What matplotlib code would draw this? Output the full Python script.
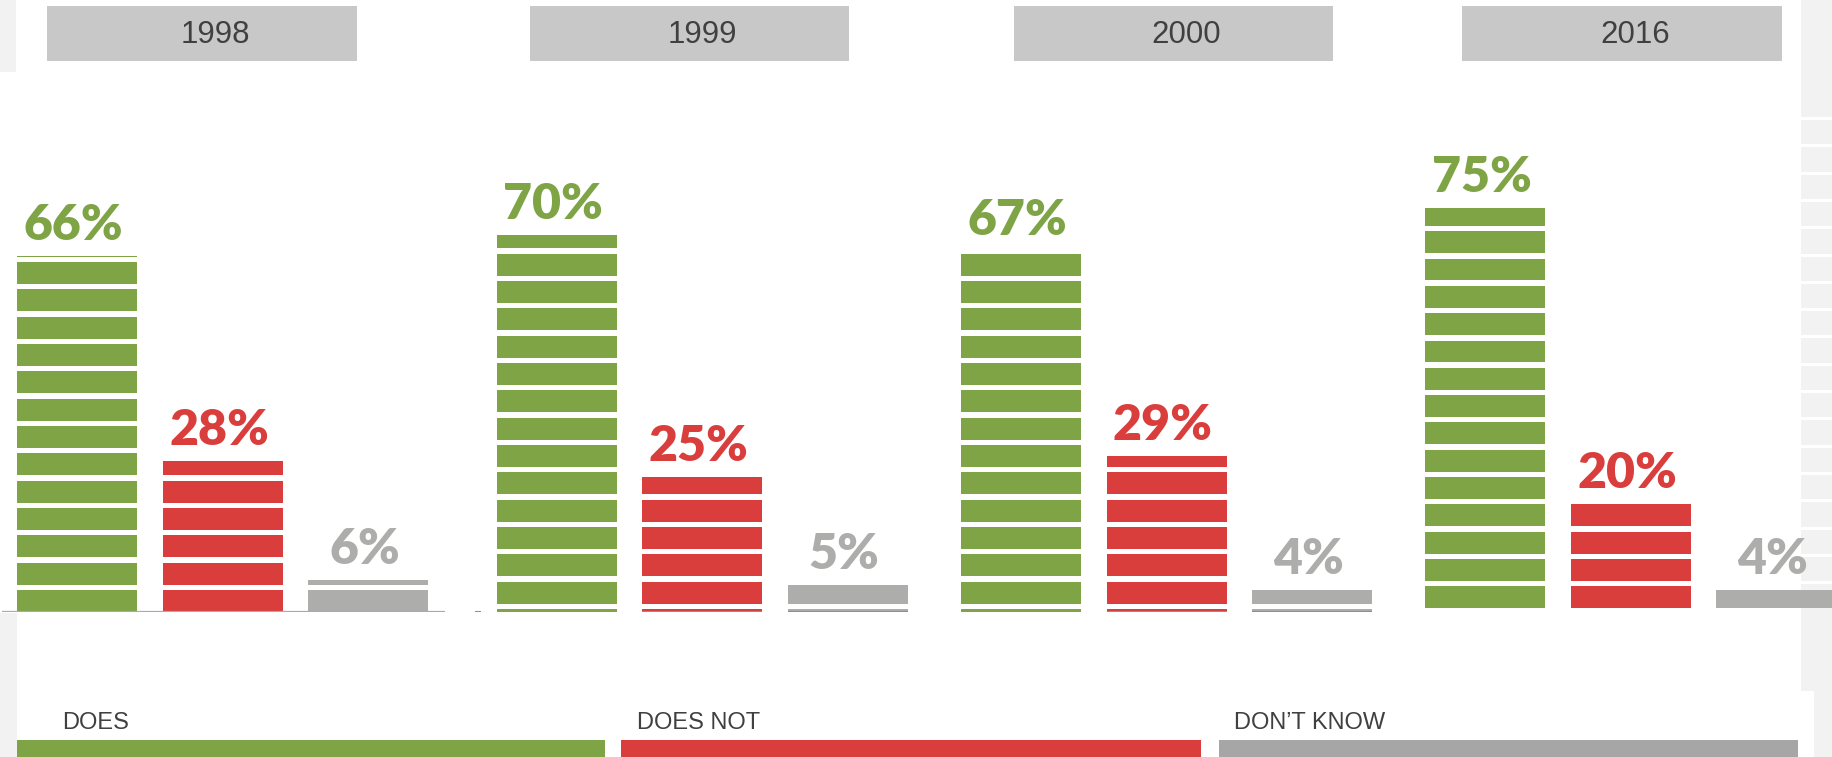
import matplotlib
matplotlib.use("Agg")
import matplotlib.pyplot as plt
from matplotlib.patches import Rectangle

# ---------------- data ----------------
years = ["1998", "1999", "2000", "2016"]
categories = ["DOES", "DOES NOT", "DON\u2019T KNOW"]
does = [66, 70, 67, 75]
does_not = [28, 25, 29, 20]
dont_know = [6, 5, 4, 4]
value_labels_fmt = "{}%"

# ---------------- layout / style ----------------
W, H = 1833, 757
DPI = 100
GREEN = "#7ea446"
RED = "#d93e3c"
GRAY = "#adaeac"
LEG_GRAY = "#a6a6a6"
BOX = "#c8c8c8"
BG = "#f2f2f2"
TXT = "#404040"
colors = [GREEN, RED, GRAY]

group_centers = [223, 702.5, 1167, 1631]   # centre of middle bar (px)
bar_step = 145.5
bar_w = 120
seg_pitch = 5.07        # in percent units
seg_gap = 1.0
seg_offsets = [0.0, 1.55, 1.55, 0.67]
year_boxes = [(47, 357), (530, 849), (1014, 1333), (1462, 1782)]
legend_x = [(17, 605), (621, 1201), (1219, 1798)]
legend_text_x = [62, 637, 1234]
legend_colors = [GREEN, RED, LEG_GRAY]

fig = plt.figure(figsize=(W / DPI, H / DPI), dpi=DPI)
fig.patch.set_facecolor("white")

# decoration axes in pixel coordinates
deco = fig.add_axes([0, 0, 1, 1], zorder=0)
deco.set_xlim(0, W)
deco.set_ylim(H, 0)
deco.axis("off")

def rect(ax, x0, y0, x1, y1, color, z=1):
    ax.add_patch(Rectangle((x0, y0), x1 - x0, y1 - y0, facecolor=color,
                           edgecolor="none", zorder=z))

# light gray page edges
rect(deco, 0, 0, 16, 72, BG)
rect(deco, 0, 613, 17, H, BG)
rect(deco, 1801, 0, W, 691, BG)
rect(deco, 1814, 691, W, H, BG)
for k in range(18):
    y = 117 + k * 27.3
    rect(deco, 1801, y, W, y + 3, "white", z=2)

# year boxes
for (x0, x1), yr in zip(year_boxes, years):
    rect(deco, x0, 6, x1, 61, BOX)
    deco.text((x0 + x1) / 2 + 13, 35, yr, ha="center", va="center",
              fontsize=22.5, color=TXT, family="Liberation Sans", zorder=3)

# legend
for (x0, x1), tx, c, lab in zip(legend_x, legend_text_x, legend_colors, categories):
    rect(deco, x0, 740, x1, H, c)
    deco.text(tx, 729, lab, ha="left", va="baseline", fontsize=17,
              color=TXT, family="Liberation Sans", zorder=3)

# bars axes: y in percent
y0_px = 612
px_per_pct = 5.39
ax = fig.add_axes([0, (H - y0_px) / H, 1, 100 * px_per_pct / H], zorder=1)
ax.patch.set_alpha(0)
ax.set_xlim(0, W)
ax.set_ylim(0, 100)
ax.axis("off")

series = [does, does_not, dont_know]
for gi, gc in enumerate(group_centers):
    off = seg_offsets[gi]
    for si, vals in enumerate(series):
        v = vals[gi]
        xc = gc + (si - 1) * bar_step
        starts, heights = [], []
        k = -1
        while True:
            s = off + k * seg_pitch
            if s >= v:
                break
            e = s + seg_pitch - seg_gap
            s2, e2 = max(s, 0), min(e, v)
            if e2 > s2:
                starts.append(s2)
                heights.append(e2 - s2)
            k += 1
        ax.bar([xc] * len(starts), heights, bottom=starts, width=bar_w,
               color=colors[si], linewidth=0, zorder=2)
        ax.annotate(value_labels_fmt.format(v), (xc - 4, v), xytext=(0, 16),
                    textcoords="offset pixels", ha="center", va="baseline",
                    fontsize=36, fontweight="heavy", family="Lato",
                    color=colors[si], zorder=3)
        # baseline under bars
        if gi in (1, 2):
            ax.plot([xc - bar_w / 2, xc + bar_w / 2], [0, 0], color="#8f8f8f",
                    lw=1.5, solid_capstyle="butt", zorder=3)
        elif gi == 3:
            ax.plot([xc - bar_w / 2, xc + bar_w / 2], [-0.2, -0.2], color="#d0d0d0",
                    lw=1.2, solid_capstyle="butt", zorder=3)

# 1998 axis line and a tiny dash near 1999
ax.plot([2, 445], [0, 0], color="#aaaaaa", lw=1.6, solid_capstyle="butt", zorder=3)
ax.plot([475, 481], [0, 0], color="#8f8f8f", lw=1.5, solid_capstyle="butt", zorder=3)

fig.savefig("out.png", dpi=DPI, facecolor="white")
